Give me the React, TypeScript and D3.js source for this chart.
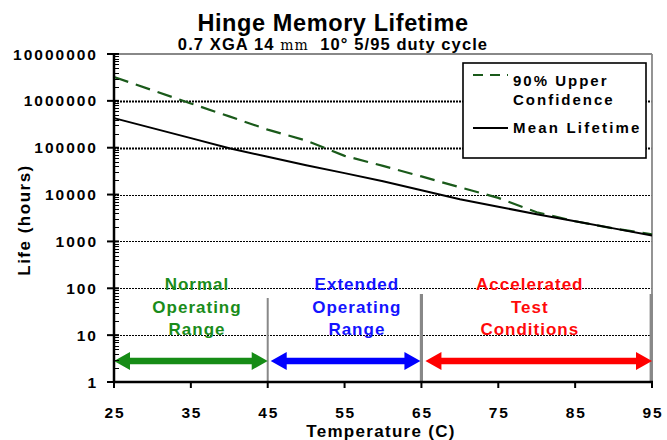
import React from "react";
import * as d3 from "d3";

const temps = [25, 30, 35, 40, 45, 50, 55, 60, 65, 70, 75, 80, 85, 90, 95];
const upperConfidence = [3.22e6, 1.69e6, 8.8e5, 4.66e5, 2.43e5, 1.42e5, 6.7e4, 4.1e4, 2.44e4, 1.43e4, 8.5e3, 4.2e3, 2.7e3, 1.9e3, 1.42e3];
const meanLifetime = [4.28e5, 2.62e5, 1.6e5, 9.7e4, 6.4e4, 4.24e4, 2.87e4, 1.92e4, 1.24e4, 7.94e3, 5.5e3, 3.81e3, 2.7e3, 1.9e3, 1.34e3];

const xTicks = [25, 35, 45, 55, 65, 75, 85, 95];
const yTicks = [1, 10, 100, 1000, 10000, 100000, 1000000, 10000000];
const gridValues = [10, 100, 1000, 10000, 100000, 1000000];

const regionNames = ["Normal", "Extended", "Accelerated"];
const regionLines = [["Normal", "Operating", "Range"], ["Extended", "Operating", "Range"], ["Accelerated", "Test", "Conditions"]];
const regionFrom = [25, 45, 65];
const regionTo = [45, 65, 95];
const regionLabelAt = [35.8, 56.6, 79.1];

const title = "Hinge Memory Lifetime";
const seriesNames = ["90% Upper Confidence", "Mean Lifetime"];

const W = 667, H = 440;
const L = 114, R = 652, T = 54, B = 382;
const FONT = "'Liberation Sans', Arial, Helvetica, sans-serif";
const regionColors = ["#168c16", "#0000ff", "#ff0000"];
const textColors = ["#1a8c1a", "#1414ff", "#ff0a0a"];

export default function App() {
  const x = d3.scaleLinear().domain([25, 95]).range([L, R]);
  const y = d3.scaleLog().domain([1, 1e7]).range([B, T]);
  const line = d3.line<number>().x((_, i) => x(temps[i])).y((d) => y(d));

  const minor: number[] = [];
  for (let e = 0; e < 7; e++) for (let k = 2; k <= 9; k++) minor.push(k * Math.pow(10, e));

  const arrowY = 361;
  const arrow = (x1: number, x2: number) => {
    const hl = 16, hh = 9, sh = 3.2;
    const p = d3.path();
    p.moveTo(x1, arrowY);
    p.lineTo(x1 + hl, arrowY - hh);
    p.lineTo(x1 + hl, arrowY - sh);
    p.lineTo(x2 - hl, arrowY - sh);
    p.lineTo(x2 - hl, arrowY - hh);
    p.lineTo(x2, arrowY);
    p.lineTo(x2 - hl, arrowY + hh);
    p.lineTo(x2 - hl, arrowY + sh);
    p.lineTo(x1 + hl, arrowY + sh);
    p.lineTo(x1 + hl, arrowY + hh);
    p.closePath();
    return p.toString();
  };
  const arrowStart = [x(regionFrom[0]), x(regionFrom[1]) + 3, x(regionFrom[2]) + 4];
  const arrowEnd = [x(regionTo[0]), x(regionTo[1]) - 1, x(regionTo[2])];

  return (
    <svg width={W} height={H} style={{ position: "absolute", left: 0, top: 0, background: "#fff" }} fontFamily={FONT}>
      <rect x={0} y={0} width={W} height={H} fill="#fff" />
      {/* title */}
      <text x={333} y={31} textAnchor="middle" fontSize={23.5} fontWeight="bold" letterSpacing={0.6}>{title}</text>
      <text x={333} y={50} textAnchor="middle" fontSize={16.5} fontWeight="bold" letterSpacing={1.1} style={{ whiteSpace: "pre" }}>
        0.7 XGA 14 <tspan fontWeight="normal" fontFamily="'DejaVu Serif', serif" fontSize={14}>mm</tspan>{"  "}10° 5/95 duty cycle
      </text>

      {/* gridlines */}
      {gridValues.map((v) => (
        <line key={v} x1={L} x2={R} y1={Math.round(y(v)) + 0.5} y2={Math.round(y(v)) + 0.5}
          stroke="#000" strokeWidth={v >= 100000 ? 2 : 1} strokeDasharray="2,1" />
      ))}
      {/* top border */}
      <line x1={L} x2={R} y1={T} y2={T} stroke="#888" strokeWidth={2} />
      {/* right border */}
      <line x1={R} x2={R} y1={T} y2={B} stroke="#888" strokeWidth={1.8} />

      {/* region separators */}
      <line x1={x(45)} x2={x(45)} y1={298} y2={B} stroke="#888" strokeWidth={2} />
      <line x1={x(65)} x2={x(65)} y1={294} y2={B} stroke="#888" strokeWidth={3.2} />
      <line x1={R - 0.8} x2={R - 0.8} y1={294} y2={B} stroke="#888" strokeWidth={3.2} />

      {/* series */}
      <path d={line(upperConfidence) || ""} fill="none" stroke="#1a5a1a" strokeWidth={2.2} strokeDasharray="15,8" />
      <path d={line(meanLifetime) || ""} fill="none" stroke="#000" strokeWidth={2} />

      {/* region labels and arrows */}
      {regionNames.map((n, i) => (
        <g key={n}>
          {regionLines[i].map((t, j) => (
            <text key={j} x={x(regionLabelAt[i])} y={290 + j * 22.5} textAnchor="middle" fontSize={17} fontWeight="bold"
              letterSpacing={1} fill={textColors[i]}>{t}</text>
          ))}
          <path d={arrow(arrowStart[i], arrowEnd[i])} fill={regionColors[i]} />
        </g>
      ))}

      {/* y axis */}
      <line x1={L} x2={L} y1={T} y2={B + 1} stroke="#000" strokeWidth={2.5} />
      {minor.map((v) => (
        <line key={v} x1={L} x2={L + 5} y1={Math.round(y(v)) + 0.5} y2={Math.round(y(v)) + 0.5} stroke="#000" strokeWidth={1} />
      ))}
      {yTicks.map((v) => (
        <g key={v}>
          <line x1={L - 7} x2={L + 5} y1={y(v)} y2={y(v)} stroke="#000" strokeWidth={2} />
          <text x={98} y={y(v) + 5.5} textAnchor="end" fontSize={15.5} fontWeight="bold" letterSpacing={2}>{String(v)}</text>
        </g>
      ))}
      {/* x axis */}
      <line x1={L - 1} x2={R + 1} y1={B} y2={B} stroke="#000" strokeWidth={2.5} />
      {xTicks.map((v) => (
        <g key={v}>
          <line x1={x(v)} x2={x(v)} y1={B} y2={B + 6} stroke="#000" strokeWidth={2} />
          <text x={x(v) + 1} y={418} textAnchor="middle" fontSize={15.5} fontWeight="bold" letterSpacing={1.8}>{String(v)}</text>
        </g>
      ))}
      <text x={381} y={437} textAnchor="middle" fontSize={17} fontWeight="bold" letterSpacing={1.3}>Temperature (C)</text>
      <text transform={`translate(30,220) rotate(-90)`} textAnchor="middle" fontSize={17} fontWeight="bold" letterSpacing={1.5}>Life (hours)</text>

      {/* legend */}
      <rect x={463} y={63} width={183} height={95} fill="#fff" stroke="#000" strokeWidth={1.6} />
      <line x1={473} x2={508} y1={75} y2={75} stroke="#1a5a1a" strokeWidth={2.2} strokeDasharray="10,7" />
      <text x={513} y={86} fontSize={15} fontWeight="bold" letterSpacing={2}>90% Upper</text>
      <text x={513} y={105} fontSize={15} fontWeight="bold" letterSpacing={2}>Confidence</text>
      <line x1={473} x2={508} y1={128} y2={128} stroke="#000" strokeWidth={2} />
      <text x={513} y={133} fontSize={15} fontWeight="bold" letterSpacing={2.2}>{seriesNames[1]}</text>
    </svg>
  );
}
